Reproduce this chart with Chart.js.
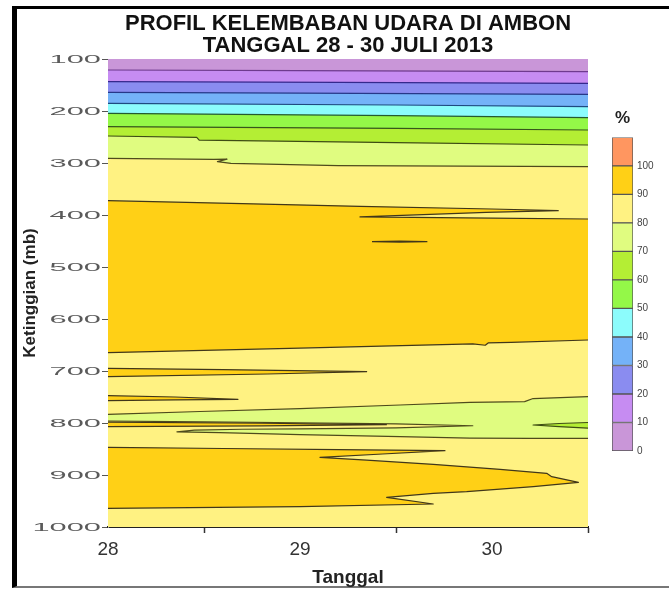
<!DOCTYPE html>
<html>
<head>
<meta charset="utf-8">
<title>Profil Kelembaban Udara di Ambon</title>
<script src="https://cdn.jsdelivr.net/npm/chart.js@4.4.1/dist/chart.umd.min.js"></script>
<style>
  html, body { margin: 0; padding: 0; background: #fff; }
  #wrap { position: relative; width: 669px; height: 589px; overflow: hidden; }
  #frame { position: absolute; left: 12px; top: 6px; width: 700px; height: 577px;
           border-left: 5px solid #000; border-top: 3px solid #000; border-bottom: 2px solid #777; }
  #main { position: absolute; left: 0; top: 0; }
  #scale { position: absolute; left: 596px; top: 96px; }
</style>
</head>
<body>
<div id="wrap">
  <div id="frame"></div>
  <canvas id="main" width="669" height="589"></canvas>
  <canvas id="scale" width="73" height="370"></canvas>
</div>
<script>
const FONT = "'Liberation Sans', Arial, Helvetica, sans-serif";
Chart.defaults.font.family = FONT;

// Axis domain: date (July 2013) and pressure level (mb)
const DAY_MIN = 28, DAY_MAX = 30.5;
const P_TOP = 100, P_BOTTOM = 1000;
const dayTicks = [28, 28.5, 29, 29.5, 30, 30.5];

// Humidity classes (%) and their fill colours (last one is > 100 %)
const levels = [0, 10, 20, 30, 40, 50, 60, 70, 80, 90, 100];
const bandColors = ['#c996d8', '#c68cf2', '#8a8cf0', '#74b2f8', '#8cfcfc', '#94f848',
                    '#b4ee34', '#e0fc80', '#fff282', '#ffd016', '#ff9660'];
const isoStroke = { 10: '#6e3a8e', 20: '#34288c', 30: '#263888', 40: '#1e4a80',
                    50: '#245a30', 60: '#36561c', 70: '#3e4c14', 80: '#4e4a1c', 90: '#40361a' };

// Upper-air isolines, [day, pressure mb]
const rh10 = [[28, 121.2], [29, 122.5], [30.5, 124.4]];
const rh20 = [[28, 143.6], [29.2, 145], [30.5, 146.8]];
const rh30 = [[28, 164.1], [29, 165.5], [30.5, 168]];
const rh40 = [[28, 185.3], [29.5, 188.5], [30.5, 191.7]];
const rh50 = [[28, 204.5], [29.5, 209], [30.5, 212.8]];
const rh60 = [[28, 230.1], [29.5, 233.5], [30.5, 236.5]];
const rh70 = [[28, 248.1], [28.462, 250.6], [28.475, 256], [29.5, 261], [30.5, 265.4]];
const rh80 = [[28, 291], [28.55, 293], [28.62, 292.6], [28.57, 297.5], [28.64, 300.8],
              [29.2, 305], [30.5, 307.1]];

// Mid-level moist layer (>= 90 %) with the dry wedge entering from the east
const moist90Upper = [[28, 372.5], [28.7, 378], [29.3125, 383.3], [30, 388.5], [30.345, 391.7],
                      [29.97, 394.8], [29.3125, 403.6],
                      [30, 406.2], [30.5, 407.7],
                      [30.5, 640.4], [30.1, 644.8], [29.98, 646], [29.965, 650.5], [29.9, 648],
                      [29, 656], [28, 664.8]];
const dryLens450 = [[29.375, 451.3], [29.52, 450.2], [29.661, 451.3], [29.52, 452.3]];
const moistTongue700 = [[28, 694.8], [28.6, 697.5], [29.347, 701.3], [28.83, 705.8], [28, 711]];
const moistTongue750 = [[28, 747.5], [28.35, 750], [28.677, 754.4], [28.35, 755.5], [28, 757.1]];

// Drier layer (70-80 %) near 800 mb
const dryBand800 = [[28, 783.3], [28.479, 777.9], [29, 772.5], [29.521, 765.4], [29.885, 760.2],
                    [30.17, 759], [30.214, 753], [30.5, 749.4],
                    [30.5, 829.4], [30.198, 829.6], [29.885, 829.2], [29.521, 826.2], [29, 822.5],
                    [28.583, 818.6], [28.359, 816.9],
                    [28.45, 813.6], [28.7, 812], [29, 811.2], [29.5, 809.3], [29.9, 805.3],
                    [29.5, 801.8], [29, 799.5], [28.5, 797.8], [28, 796.2]];
const moistCore800 = [[28, 798.5], [28.8, 800.5], [29.45, 803.3], [28.8, 805.5], [28, 806.8]];
const dryCore800 = [[30.5, 799], [30.35, 801], [30.214, 803.8], [30.35, 807], [30.5, 810]];

// Lower moist layer (>= 90 %)
const moist90Lower = [[28, 846.8], [28.6, 849], [29.2, 851.3], [29.755, 853.3],
                      [29.43, 859.6], [29.104, 866],
                      [29.347, 871.5], [29.694, 879.5], [30.042, 889], [30.285, 896.8],
                      [30.311, 903.2], [30.45, 914.1],
                      [30.215, 922.5], [29.868, 932.1], [29.694, 935.2], [29.451, 942.9],
                      [29.694, 955.8], [29, 961], [28, 964]];

// Painting order: background class, then the isoline-bounded regions, then mid-level features
const layers = [];
layers.push({ poly: [[DAY_MIN, P_TOP], [DAY_MAX, P_TOP], [DAY_MAX, P_BOTTOM], [DAY_MIN, P_BOTTOM]],
              color: bandColors[8], stroke: isoStroke[80] });
[[rh80, 80], [rh70, 70], [rh60, 60], [rh50, 50], [rh40, 40], [rh30, 30], [rh20, 20], [rh10, 10]]
  .forEach(([line, lev]) => layers.push({
    poly: [[DAY_MIN, P_TOP], [DAY_MAX, P_TOP]].concat(line.slice().reverse()),
    color: bandColors[levels.indexOf(lev) - 1], stroke: isoStroke[lev] }));
layers.push({ poly: moist90Upper, color: bandColors[9], stroke: isoStroke[90] });
layers.push({ poly: dryLens450, color: bandColors[8], stroke: isoStroke[90] });
layers.push({ poly: moistTongue700, color: bandColors[9], stroke: isoStroke[90] });
layers.push({ poly: moistTongue750, color: bandColors[9], stroke: isoStroke[90] });
layers.push({ poly: dryBand800, color: bandColors[7], stroke: isoStroke[80] });
layers.push({ poly: moistCore800, color: bandColors[9], stroke: isoStroke[90] });
layers.push({ poly: dryCore800, color: bandColors[6], stroke: isoStroke[70] });
layers.push({ poly: moist90Lower, color: bandColors[9], stroke: isoStroke[90] });

// Edges lying on the plot frame are not contour lines
function edgeOnFrame(a, b) {
  const sameX = a[0] === b[0] && (a[0] === DAY_MIN || a[0] === DAY_MAX);
  const sameY = a[1] === b[1] && (a[1] === P_TOP || a[1] === P_BOTTOM);
  return sameX || sameY;
}
function contourRuns(poly) {
  const runs = [];
  let run = [];
  for (let i = 0; i < poly.length; i++) {
    const a = poly[i], b = poly[(i + 1) % poly.length];
    if (edgeOnFrame(a, b)) { if (run.length) runs.push(run); run = []; continue; }
    if (!run.length) run.push(a);
    run.push(b);
  }
  if (run.length) runs.push(run);
  return runs;
}
const toXY = arr => arr.map(([x, y]) => ({ x, y }));

const datasets = [];
layers.forEach(l => datasets.push({
  data: toXY(l.poly), fill: 'shape', backgroundColor: l.color,
  borderColor: 'rgba(0,0,0,0)', borderWidth: 0, pointRadius: 0, tension: 0
}));
layers.forEach(l => contourRuns(l.poly).forEach(run => datasets.push({
  data: toXY(run), fill: false, borderColor: l.stroke, borderWidth: 1.2,
  pointRadius: 0, tension: 0, borderJoinStyle: 'round'
})));
datasets.forEach((d, i) => { d.order = -i; });

// Wide pressure labels on the vertical axis
const widePressureLabels = {
  id: 'widePressureLabels',
  afterDraw(chart) {
    const s = chart.scales.y, ctx = chart.ctx;
    ctx.save();
    ctx.fillStyle = '#5a5a5a';
    ctx.font = '11px ' + FONT;
    ctx.textAlign = 'right';
    ctx.textBaseline = 'middle';
    s.ticks.forEach(t => {
      ctx.save();
      ctx.translate(s.right - 7, s.getPixelForValue(t.value) + 1);
      ctx.scale(2.8, 1);
      ctx.fillText(String(t.value), 0, 0);
      ctx.restore();
    });
    ctx.restore();
  }
};

new Chart(document.getElementById('main'), {
  type: 'line',
  data: { datasets },
  options: {
    responsive: false, animation: false, events: [],
    layout: { padding: { left: 0, right: 81, top: 0, bottom: 0 } },
    plugins: {
      legend: { display: false }, tooltip: { enabled: false },
      title: {
        display: true, fullSize: false,
        text: ['PROFIL KELEMBABAN UDARA DI AMBON', 'TANGGAL 28 - 30 JULI 2013'],
        font: { size: 22, weight: 'bold', lineHeight: 1.0 }, color: '#111',
        padding: { top: 13, bottom: 2 }
      }
    },
    scales: {
      x: {
        type: 'linear', min: DAY_MIN, max: DAY_MAX, z: 1,
        afterBuildTicks: s => { s.ticks = dayTicks.map(v => ({ value: v })); },
        ticks: { autoSkip: false, maxRotation: 0, font: { size: 19 }, color: '#333', padding: 5,
                 callback: v => Number.isInteger(v) ? String(v) : '' },
        grid: { drawOnChartArea: false, drawTicks: true, tickLength: 6, tickWidth: 1.5,
                tickColor: c => (c.tick && Number.isInteger(c.tick.value)) ? 'rgba(0,0,0,0)' : '#333' },
        border: { display: true, color: '#222', width: 2 },
        title: { display: true, text: 'Tanggal', font: { size: 19, weight: 'bold' }, color: '#222',
                 padding: { top: 0, bottom: 0 } },
        afterFit: s => { s.height = 62; }
      },
      y: {
        type: 'linear', reverse: true, min: P_TOP, max: P_BOTTOM, z: 1,
        ticks: { stepSize: 100, display: false },
        grid: { drawOnChartArea: false, drawTicks: true, tickLength: 6, tickColor: '#555' },
        border: { display: true, color: '#999', width: 1 },
        title: { display: true, text: 'Ketinggian (mb)', font: { size: 17, weight: 'bold' }, color: '#222',
                 padding: { top: 20, bottom: 0 } },
        afterFit: s => { s.width = 108; }
      }
    }
  },
  plugins: [widePressureLabels]
});

// Colour scale for the humidity classes
const classStep = levels[1] - levels[0];
new Chart(document.getElementById('scale'), {
  type: 'bar',
  data: {
    labels: [''],
    datasets: bandColors.map(c => ({
      data: [classStep], backgroundColor: c, borderColor: '#555', borderWidth: 1,
      borderSkipped: false, barPercentage: 1, categoryPercentage: 1
    }))
  },
  options: {
    responsive: false, animation: false, events: [],
    layout: { padding: { left: 16, right: 0, top: 0, bottom: 15 } },
    plugins: {
      legend: { display: false }, tooltip: { enabled: false },
      title: { display: true, text: '%', fullSize: false, font: { size: 17, weight: 'bold' },
               color: '#222', padding: { top: 12, bottom: 9 } }
    },
    scales: {
      x: { display: false, stacked: true },
      y: {
        stacked: true, position: 'right', min: 0, max: levels[levels.length - 1] + classStep,
        afterBuildTicks: s => { s.ticks = levels.map(v => ({ value: v })); },
        ticks: { font: { size: 10 }, color: '#444', padding: 4 },
        grid: { display: false, drawTicks: false },
        border: { display: false },
        afterFit: s => { s.width = 36; }
      }
    }
  }
});
</script>
</body>
</html>
